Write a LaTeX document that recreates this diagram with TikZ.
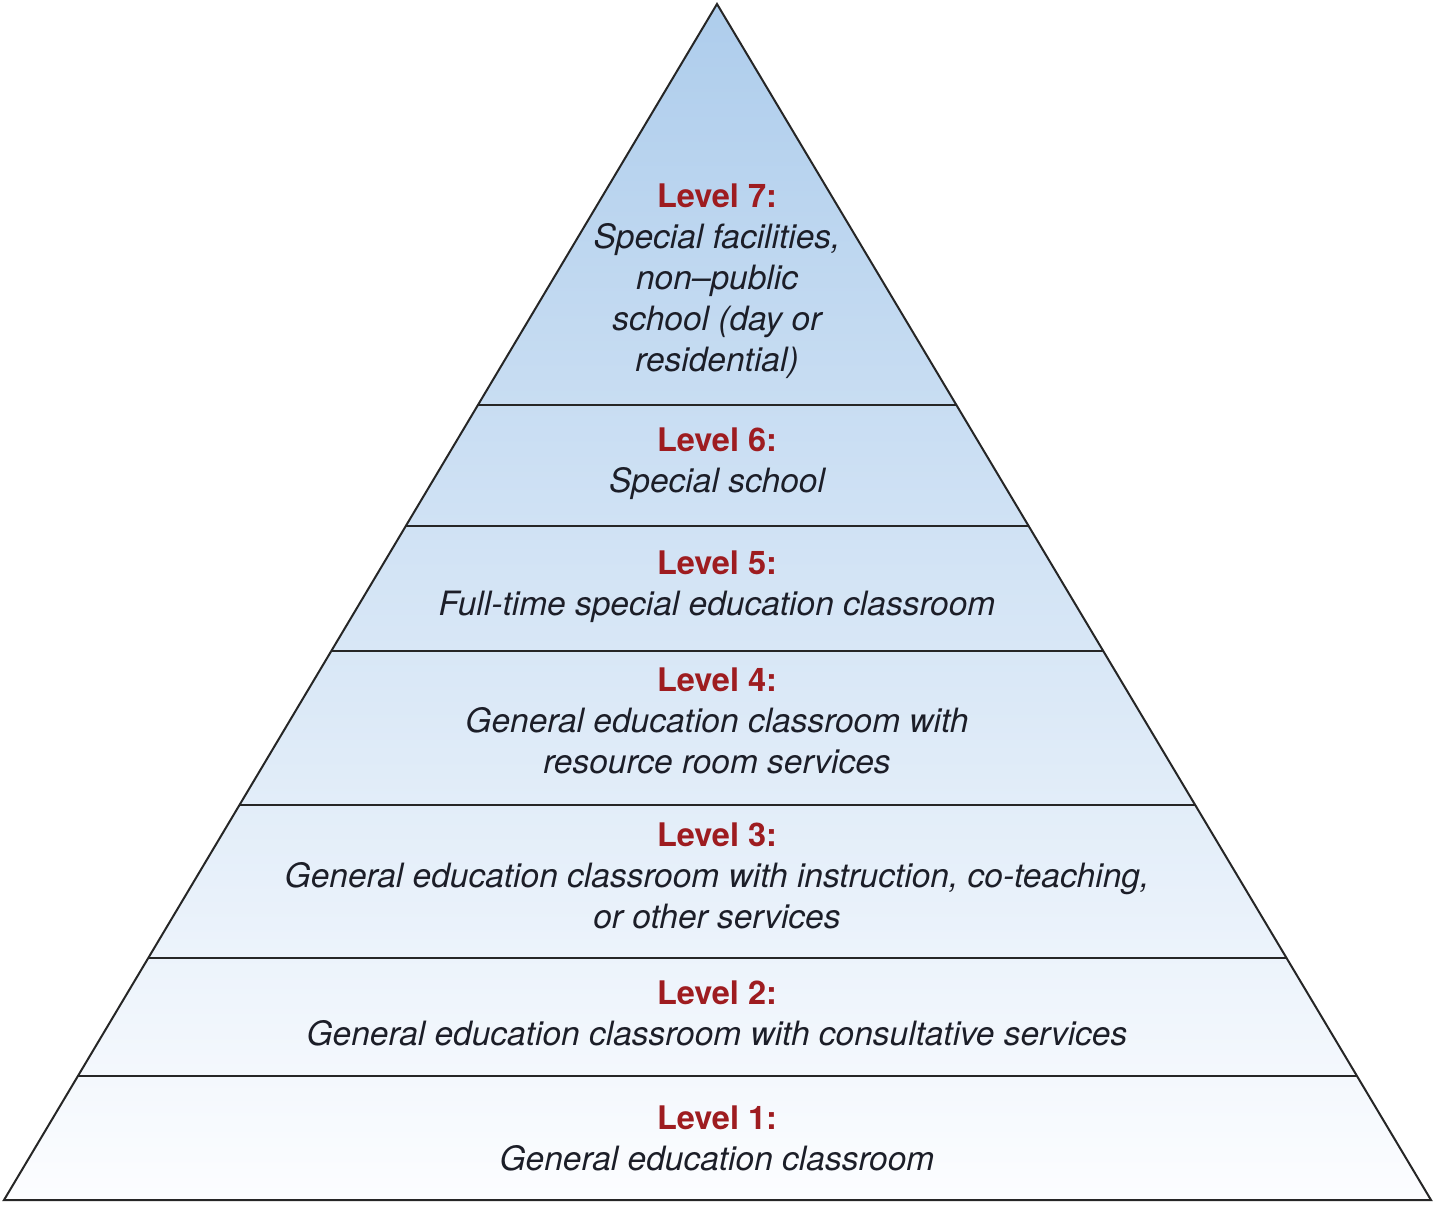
\documentclass[tikz,border=0pt]{standalone}
\usepackage{fontspec}
\setmainfont{TeX Gyre Heros}
\usetikzlibrary{calc}
\definecolor{lvlred}{RGB}{158,28,32}
\definecolor{txtdark}{RGB}{28,30,40}
\definecolor{tipblue}{RGB}{174,205,236}
\definecolor{baseblue}{RGB}{252,253,255}
\newcommand{\lvlhead}[1]{{\upshape\bfseries\fontsize{32.5}{41}\selectfont\color{lvlred}Level #1:}}
\begin{document}
\begin{tikzpicture}[x=1pt,y=-1pt,
	tier/.style={align=center, text=txtdark, font=\fontsize{33.5}{41}\selectfont\itshape, inner sep=0pt},
	rule/.style={line width=2pt, draw={black!85}}]
	\useasboundingbox (0,0) rectangle (1436,1205);
	\coordinate (apex) at (717,4);
	\coordinate (bl) at (4,1200);
	\coordinate (br) at (1431,1200);
	\shade[top color=tipblue, bottom color=baseblue] (apex) -- (bl) -- (br) -- cycle;
	% level borders
	\foreach \y in {405,526,651,805,958,1076}
		\draw[rule] ($(apex)!{(\y-4)/1196}!(bl)$) -- ($(apex)!{(\y-4)/1196}!(br)$);
	\draw[rule, line join=miter] (apex) -- (bl) -- (br) -- cycle;
	\node[tier] (lvlseven) at (717,281) {\lvlhead{7}\\Special facilities,\\non--public\\school (day or\\residential)};
	\node[tier] (lvlsix) at (717,464) {\lvlhead{6}\\Special school};
	\node[tier] (lvlfive) at (717,587) {\lvlhead{5}\\Full-time special education classroom};
	\node[tier] (lvlfour) at (717,721) {\lvlhead{4}\\General education classroom with\\resource room services};
	\node[tier] (lvlthree) at (717,876) {\lvlhead{3}\\General education classroom with instruction, co-teaching,\\or other services};
	\node[tier] (lvltwo) at (717,1013) {\lvlhead{2}\\General education classroom with consultative services};
	\node[tier] (lvlone) at (717,1138) {\lvlhead{1}\\General education classroom};
\end{tikzpicture}
\end{document}
